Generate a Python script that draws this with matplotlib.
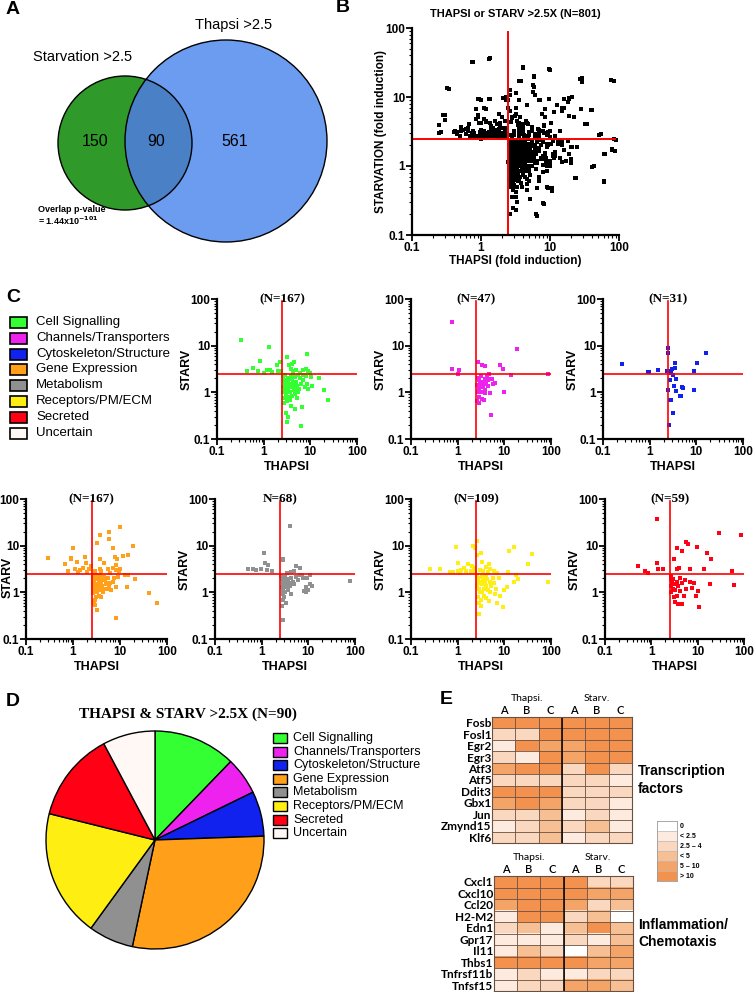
import numpy as np
import matplotlib
matplotlib.use("Agg")
import matplotlib.pyplot as plt
from matplotlib.patches import Circle, Rectangle
from matplotlib.colors import ListedColormap

plt.rcParams['font.family'] = ['Liberation Sans', 'DejaVu Sans']

# Venn counts
starv_only = 150
both = 90
thapsi_only = 561

# Panel C scatter data: (THAPSI, STARV) fold induction per category
cell_signalling = [
    (0.32, 13.5), (1.3, 9.5), (0.85, 4.8), (0.45, 2.9), (0.6, 3.4), (0.75, 2.8), (1.0, 2.6), (1.2, 3.0),
    (1.35, 3.0), (1.5, 2.7), (1.9, 3.8), (2.0, 2.9), (2.2, 4.5), (2.4, 2.8), (3.2, 5.6), (3.5, 3.8),
    (3.8, 3.2), (4.0, 4.0), (4.5, 4.5), (4.2, 2.8), (5.0, 3.0), (6.0, 2.6), (7.0, 3.0), (8.0, 3.2),
    (8.5, 6.6), (9.0, 2.8), (10.0, 2.6), (2.6, 2.2), (2.7, 1.8), (2.8, 1.5), (2.6, 1.3), (2.9, 1.1),
    (3.0, 0.9), (2.7, 0.75), (3.1, 0.65), (3.3, 2.0), (3.4, 1.7), (3.5, 1.4), (3.2, 1.2), (3.6, 1.0),
    (3.4, 0.8), (3.0, 0.36), (3.3, 0.3), (3.2, 0.23), (3.8, 2.2), (4.0, 1.9), (4.2, 1.6), (3.9, 1.3),
    (4.4, 1.1), (4.1, 0.85), (3.9, 0.5), (4.6, 0.45), (4.8, 2.1), (5.0, 1.7), (5.3, 1.4), (4.7, 1.2),
    (5.5, 1.0), (5.2, 0.75), (6.0, 2.0), (6.3, 1.5), (5.8, 1.2), (6.5, 0.48), (6.4, 0.19), (7.0, 1.8),
    (7.5, 1.3), (8.0, 2.2), (8.5, 1.5), (9.0, 1.2), (10.5, 2.1), (11.0, 1.4), (15.0, 2.0), (20.0, 1.1),
    (24.0, 0.68), (2.9, 2.4), (3.1, 1.6), (3.7, 1.5), (4.3, 2.3), (2.6, 1.0), (2.8, 1.25), (3.5, 1.9),
    (4.5, 1.4), (5.5, 2.3), (6.8, 2.4), (3.3, 1.05), (3.7, 0.7), (2.7, 0.6), (4.8, 0.9),
]
channels = [
    (0.75, 32), (0.77, 3.2), (1.05, 2.96), (1.0, 2.5), (18.5, 8.6), (2.7, 4.4), (3.4, 3.9), (3.9, 3.6),
    (8.2, 3.9), (9.5, 3.1), (4.8, 2.5), (14, 2.4), (85, 2.5), (9.9, 1.0), (6.3, 1.58), (5.2, 0.33),
    (2.7, 2.0), (2.9, 1.8), (3.0, 1.5), (2.8, 1.2), (2.7, 1.0), (2.6, 0.65), (2.8, 0.6), (3.2, 2.2),
    (3.3, 1.7), (3.5, 1.3), (3.3, 1.0), (3.4, 0.72), (3.7, 0.7), (3.9, 1.9), (4.0, 1.5), (3.8, 1.15),
    (3.9, 0.95), (4.5, 1.8), (4.8, 1.9), (5.0, 0.95), (5.5, 1.95), (5.8, 1.5), (4.4, 1.4), (2.6, 1.45),
    (3.1, 1.35), (3.6, 1.6), (4.2, 2.2), (2.9, 0.8),
]
cytoskeleton = [
    (0.25, 3.98), (0.9, 2.75), (0.95, 2.75), (1.48, 2.96), (2.3, 2.8), (2.43, 8.9), (2.43, 6.9),
    (2.7, 2.8), (3.0, 3.2), (3.5, 4.2), (3.5, 3.4), (3.1, 2.3), (2.7, 1.8), (2.5, 1.15), (3.6, 1.9),
    (3.3, 1.4), (3.6, 1.05), (5.0, 1.3), (4.7, 0.85), (4.4, 0.85), (2.7, 0.7), (3.2, 0.36), (2.65, 0.2),
    (9.0, 2.9), (10.5, 4.2), (16, 6.9), (8.7, 1.15), (2.4, 2.8), (2.8, 2.6), (5.1, 1.25), (2.9, 0.7),
]
gene_expression = [
    (10, 25), (5.8, 19.6), (3.75, 17), (5.8, 14), (1.0, 8.9), (3.2, 11.4), (19, 9.8), (7.1, 8.9),
    (0.3, 5.4), (0.9, 5.4), (1.8, 5.6), (3.7, 5.1), (7.7, 5.6), (8.5, 5.1), (11.5, 6.0), (15, 6.2),
    (0.68, 4.0), (0.9, 5.2), (1.2, 4.5), (1.1, 3.2), (1.4, 3.0), (1.6, 3.3), (1.9, 4.2), (2.2, 3.2),
    (3.7, 3.2), (4.6, 4.2), (5.5, 3.2), (7.0, 3.3), (8.3, 3.8), (8.3, 3.0), (13, 2.35), (15, 2.3),
    (20.5, 1.9), (41, 0.97), (60, 0.6), (8.2, 0.28), (0.8, 2.9), (1.3, 2.7), (2.0, 2.7), (2.4, 3.6),
    (3.0, 2.8), (4.0, 2.9), (6.0, 2.6), (9.5, 2.8), (10, 3.2), (5.2, 1.58), (5.8, 1.35), (7.0, 1.66),
    (8.3, 1.27), (14, 1.3), (9.0, 2.1), (2.6, 2.3), (2.7, 2.0), (2.8, 1.7), (2.9, 1.5), (2.6, 1.3),
    (3.0, 1.1), (2.7, 0.95), (3.1, 0.8), (2.8, 0.65), (3.3, 2.2), (3.4, 1.9), (3.5, 1.6), (3.2, 1.4),
    (3.6, 1.2), (3.3, 1.0), (3.5, 0.85), (3.0, 0.7), (3.9, 2.0), (4.0, 1.7), (4.2, 1.4), (3.8, 1.15),
    (4.4, 1.0), (4.0, 0.8), (2.6, 1.1), (2.9, 1.9), (3.1, 2.4), (3.7, 2.3), (4.5, 2.1), (4.7, 1.8),
    (5.0, 1.5), (5.3, 1.2), (5.6, 2.0), (6.2, 1.6), (6.5, 1.1), (7.5, 2.0), (2.75, 0.55), (3.2, 0.42),
    (3.0, 0.53), (2.6, 1.6), (3.4, 1.3), (4.6, 1.2), (2.8, 2.4), (3.6, 1.75),
]
metabolism = [
    (4.05, 26.5), (1.1, 7.0), (2.86, 5.2), (1.2, 4.3), (1.4, 3.8), (0.64, 3.2), (0.75, 3.0), (0.51, 3.2),
    (0.97, 3.1), (1.3, 3.0), (1.7, 2.9), (2.8, 5.0), (5.4, 3.7), (6.6, 3.4), (4.9, 2.8), (4.2, 2.7),
    (3.5, 2.6), (7.3, 2.35), (9.5, 2.0), (10.9, 1.5), (8.8, 1.3), (80, 1.75), (2.6, 2.2), (2.7, 1.9),
    (2.8, 1.6), (2.7, 1.3), (2.9, 1.1), (2.8, 0.9), (2.9, 0.7), (2.75, 0.5), (2.9, 0.25), (3.1, 2.1),
    (3.3, 1.8), (3.2, 1.5), (3.4, 1.3), (3.1, 1.0), (3.0, 0.8), (3.6, 1.9), (3.8, 1.6), (4.0, 1.4),
    (3.7, 1.15), (4.3, 2.0), (4.6, 1.7), (5.0, 1.5), (5.5, 2.1), (6.0, 1.8), (6.5, 2.4), (4.2, 0.9),
    (3.4, 0.6), (8.0, 1.05), (9.0, 1.0), (10, 1.15), (12, 1.4), (11, 2.3), (7.5, 2.0),
]
receptors = [
    (0.92, 9.4), (2.1, 9.8), (2.6, 12.5), (2.3, 8.9), (2.6, 6.3), (3.2, 6.9), (12.6, 7.7), (16, 9.4),
    (39, 6.5), (0.26, 3.16), (0.42, 3.2), (1.0, 4.2), (0.8, 2.7), (1.0, 2.9), (1.2, 3.0), (1.4, 3.4),
    (1.7, 4.0), (1.9, 2.8), (2.2, 3.3), (2.4, 2.9), (2.0, 3.6), (1.5, 2.8), (0.7, 2.75), (1.1, 2.6),
    (32, 4.0), (12, 2.7), (18, 2.3), (20, 1.9), (16, 1.7), (87, 1.66), (11.6, 1.3), (9.9, 1.1),
    (8, 0.83), (9.2, 0.48), (2.86, 0.35), (3.0, 3.0), (3.5, 2.8), (4.0, 3.5), (4.5, 2.7), (5.0, 3.1),
    (6.0, 2.9), (7.0, 2.6), (3.3, 4.5), (4.8, 4.0), (2.6, 2.3), (2.7, 2.0), (2.9, 1.7), (2.6, 1.4),
    (2.8, 1.2), (3.0, 1.0), (2.7, 0.8), (2.9, 0.6), (3.2, 0.7), (3.3, 2.1), (3.5, 1.8), (3.4, 1.5),
    (3.7, 1.2), (3.3, 1.0), (3.6, 0.85), (3.1, 0.5), (4.0, 2.2), (4.2, 1.9), (4.0, 1.4), (4.4, 1.1),
    (4.1, 0.75), (4.6, 0.65), (4.9, 1.7), (5.3, 1.4), (5.0, 1.0), (5.6, 2.0), (6.0, 1.6), (6.5, 1.2),
    (7.0, 0.6), (6.2, 0.9), (7.5, 2.0), (2.75, 1.55), (3.8, 1.6),
]
secreted = [
    (1.33, 37), (29, 18.6), (86, 17), (5.6, 12), (6.1, 10.6), (3.6, 9.0), (4.7, 7.7), (9.8, 9.3),
    (16, 6.9), (19, 5.3), (3.1, 5.3), (0.51, 3.7), (0.73, 2.9), (0.84, 2.6), (1.35, 4.2), (1.4, 3.1),
    (1.8, 3.2), (3.5, 3.1), (4.0, 3.3), (7.0, 3.2), (14, 3.2), (54, 2.9), (62, 1.47), (18.7, 1.5),
    (10, 1.05), (10.7, 0.48), (3.8, 0.57), (2.6, 2.2), (2.7, 1.9), (2.8, 1.6), (2.6, 1.4), (2.9, 1.2),
    (3.0, 1.9), (3.2, 1.5), (3.3, 1.1), (3.1, 0.8), (3.2, 0.62), (3.6, 1.7), (3.8, 1.35), (3.5, 0.85),
    (4.2, 2.0), (4.5, 1.6), (4.1, 1.05), (4.6, 0.55), (5.2, 1.8), (5.5, 1.2), (5.0, 0.85), (6.8, 1.7),
    (7.5, 1.25), (8.5, 1.55), (9.0, 0.85), (2.7, 1.0),
]
# genes of uncertain function (only shown in panel B)
uncertain = [
    (0.25, 3.95), (0.25, 3.05), (0.28, 5.4), (0.3, 4.6), (0.34, 13), (0.4, 3.1), (0.45, 3.1), (0.76, 32),
    (1.32, 36), (0.9, 9.3), (1.33, 9.3), (1.2, 6.6), (0.86, 6.8), (4.1, 26.9), (9.7, 25.6), (3.6, 17.3),
    (5.9, 20), (5.6, 15), (27.5, 18), (29, 16.5), (77, 17.5), (2.6, 12.6), (2.6, 10.7), (2.3, 10),
    (6.9, 9), (21, 10), (19, 9.2), (15, 6.9), (28, 6.6), (41, 6.5), (34, 4.0), (22, 5.2), (52, 2.77),
    (60, 1.5), (80, 1.7), (90, 2.4), (60, 0.58), (43, 1.0), (23, 0.67), (8.0, 0.29), (6.2, 0.2),
    (3.2, 0.23), (2.65, 0.2), (10.7, 0.44), (9, 0.5), (0.5, 2.7), (0.55, 3.3), (0.6, 2.9), (0.65, 3.6),
    (0.7, 2.6), (0.8, 3.0), (0.9, 2.7), (1.0, 3.3), (1.1, 2.8), (1.2, 2.6), (1.3, 3.1), (1.4, 2.7),
    (1.6, 2.9), (1.7, 2.6), (1.8, 3.4), (2.0, 2.6), (2.1, 3.0), (2.2, 2.7), (2.3, 3.5), (2.4, 2.6),
    (1.5, 3.6), (1.9, 2.55), (0.95, 4.2), (1.1, 4.8), (1.6, 4.5), (2.0, 5.2), (2.55, 2.0), (2.6, 1.7),
    (2.65, 1.2), (2.6, 0.9), (2.7, 0.5), (2.8, 2.3), (2.85, 1.4), (2.9, 1.0), (2.95, 0.45), (3.0, 1.7),
    (3.05, 1.25), (3.1, 0.75), (3.2, 2.1), (3.25, 1.6), (3.3, 0.9), (3.35, 0.5), (3.4, 1.9), (3.5, 1.1),
    (3.6, 0.62), (3.7, 2.0), (3.8, 1.3), (3.9, 0.95), (4.0, 1.6), (4.2, 1.25), (4.3, 0.7), (4.5, 1.9),
    (4.8, 1.3), (5.0, 0.6), (5.5, 1.6), (6.0, 1.1), (6.5, 2.2), (7.0, 0.7), (8.0, 1.4), (9.0, 1.9),
    (10, 1.2), (12, 1.6), (13, 2.1), (15, 1.15), (17, 1.2), (20, 1.25), (25, 1.9),
]

categories = ["Cell Signalling", "Channels/Transporters", "Cytoskeleton/Structure", "Gene Expression",
              "Metabolism", "Receptors/PM/ECM", "Secreted", "Uncertain"]
cat_colors = ["#33FF33", "#EE22EE", "#1122EE", "#FF9F1A", "#909090", "#FFEE11", "#FF0015", "#FFF8F4"]
panel_titles = ["(N=167)", "(N=47)", "(N=31)", "(N=167)", "N=68)", "(N=109)", "(N=59)"]

# Panel D: both >2.5X, counts per category
pie_counts = [11, 5, 6, 26, 6, 17, 12, 7]

# Panel E heatmaps: levels 0..5 (0, <2.5, 2.5-4, <5, 5-10, >10)
cond_cols = ["A", "B", "C", "A", "B", "C"]
tf_genes = ["Fosb", "Fosl1", "Egr2", "Egr3", "Atf3", "Atf5", "Ddit3", "Gbx1", "Jun", "Zmynd15", "Klf6"]
tf_levels = [
    [5, 5, 5, 5, 5, 5],
    [2, 2, 5, 5, 5, 5],
    [1, 5, 4, 4, 5, 5],
    [2, 1, 5, 4, 5, 5],
    [4, 5, 5, 2, 5, 2],
    [2, 2, 2, 2, 2, 1],
    [5, 5, 5, 2, 2, 2],
    [4, 5, 4, 2, 2, 1],
    [2, 2, 3, 1, 2, 1],
    [1, 2, 3, 2, 3, 1],
    [2, 2, 3, 1, 2, 2],
]
inf_genes = ["Cxcl1", "Cxcl10", "Ccl20", "H2-M2", "Edn1", "Gpr17", "Il11", "Thbs1", "Tnfrsf11b", "Tnfsf15"]
inf_levels = [
    [5, 5, 5, 5, 2, 2],
    [5, 5, 5, 5, 4, 4],
    [4, 5, 5, 4, 2, 3],
    [1, 5, 5, 2, 3, 0],
    [2, 3, 1, 3, 5, 3],
    [1, 1, 1, 2, 1, 3],
    [1, 3, 2, 0, 3, 4],
    [5, 5, 5, 5, 4, 4],
    [1, 2, 1, 1, 2, 2],
    [1, 2, 2, 4, 4, 3],
]
level_labels = ["0", "< 2.5", "2.5 \u2013 4", "< 5", "5 \u2013 10", "> 10"]
level_colors = ["#FFFFFF", "#FDEBDF", "#FAD8BF", "#F7BF94", "#F4A466", "#F2924E"]

W, H = 755, 992
fig = plt.figure(figsize=(W / 100, H / 100), dpi=100)


def axes_px(l, t, r, b):
    return fig.add_axes([l / W, 1 - b / H, (r - l) / W, (b - t) / H])


# canvas in pixel coordinates for venn, legends and labels
canvas = axes_px(0, 0, W, H)
canvas.set_xlim(0, W)
canvas.set_ylim(H, 0)
canvas.axis('off')

bold = dict(fontweight='bold')
for lab, x, y in [("A", 6, 10), ("B", 336, 8), ("C", 6, 298), ("D", 6, 702), ("E", 440, 700)]:
    canvas.text(x, y, lab, fontsize=14, va='center', ha='left', **bold)

# ---- A: venn
green = Circle((125, 143), 67, fc="#2F9A2A", ec='none')
canvas.add_patch(green)
canvas.add_patch(Circle((226, 141), 101, fc="#6C9CF0", ec='none'))
lens = Circle((226, 141), 101, fc="#4A80C6", ec='none')
canvas.add_patch(lens)
lens.set_clip_path(green)
canvas.add_patch(Circle((125, 143), 67, fill=False, ec='black', lw=1))
canvas.add_patch(Circle((226, 141), 101, fill=False, ec='black', lw=1))
canvas.text(83, 57, "Starvation >2.5", fontsize=10.5, ha='center', va='center')
canvas.text(234, 25, "Thapsi >2.5", fontsize=10.5, ha='center', va='center')
canvas.text(95, 141, str(starv_only), fontsize=11.5, ha='center', va='center')
canvas.text(156, 141, str(both), fontsize=11.5, ha='center', va='center')
canvas.text(235, 141, str(thapsi_only), fontsize=11.5, ha='center', va='center')
canvas.text(38, 210, "Overlap p-value", fontsize=6.5, ha='left', va='center', **bold)
canvas.text(38, 221, r"= 1.44x10$^{\mathbf{-101}}$", fontsize=6.5, ha='left', va='center', **bold)


def style_log(ax, fs=8.5):
    ax.set_xscale('log')
    ax.set_yscale('log')
    ax.set_xlim(0.1, 100)
    ax.set_ylim(0.1, 100)
    ticks = [0.1, 1, 10, 100]
    names = ["0.1", "1", "10", "100"]
    ax.set_xticks(ticks)
    ax.set_xticklabels(names)
    ax.set_yticks(ticks)
    ax.set_yticklabels(names)
    for s in ['top', 'right']:
        ax.spines[s].set_visible(False)
    for s in ['left', 'bottom']:
        ax.spines[s].set_linewidth(1.6)
    ax.tick_params(which='major', length=4, width=1.3, labelsize=fs, pad=1)
    ax.tick_params(which='minor', length=2, width=0.8)
    for t in ax.get_xticklabels() + ax.get_yticklabels():
        t.set_fontweight('bold')
    ax.patch.set_alpha(0)


# ---- B: all genes
axb = axes_px(412, 28, 619, 235)
style_log(axb, 8.5)
all_pts = np.array(cell_signalling + channels + cytoskeleton + gene_expression + metabolism
                   + receptors + secreted + uncertain)
axb.plot(all_pts[:, 0], all_pts[:, 1], 's', color='black', ms=2.9, mew=0, clip_on=False)
axb.plot([0.1, 88], [2.5, 2.5], color='#FF0000', lw=1.4)
axb.plot([2.5, 2.5], [0.1, 88], color='#FF0000', lw=1.4)
axb.set_title("THAPSI or STARV >2.5X (N=801)", fontsize=8, fontweight='bold', pad=8)
axb.set_xlabel("THAPSI (fold induction)", fontsize=8.5, fontweight='bold', labelpad=1)
axb.set_ylabel("STARVATION (fold induction)", fontsize=8.5, fontweight='bold', labelpad=-1)

# ---- C: per category
boxes = [(217, 299, 357, 439), (411, 299, 551, 439), (603, 299, 743, 439),
         (26, 499, 167, 639), (215, 499, 355, 639), (411, 499, 551, 639), (605, 499, 744, 639)]
cat_data = [cell_signalling, channels, cytoskeleton, gene_expression, metabolism, receptors, secreted]
for k, (box, pts, col, ttl) in enumerate(zip(boxes, cat_data, cat_colors, panel_titles)):
    ax = axes_px(*box)
    style_log(ax, 8.5)
    p = np.array(pts)
    ax.plot(p[:, 0], p[:, 1], 's', color=col, ms=2.6, mew=0, clip_on=False)
    ax.plot([0.1, 100], [2.5, 2.5], color='#FF0000', lw=1.2)
    ax.plot([2.5, 2.5], [0.1, 90], color='#FF0000', lw=1.2)
    ax.text(2.5, 1.0, ttl, transform=ax.get_xaxis_transform(), ha='center', va='center',
            fontsize=9.5, fontweight='bold', family='Liberation Serif')
    ax.set_xlabel("THAPSI", fontsize=9, fontweight='bold', labelpad=2)
    ax.set_ylabel("STARV", fontsize=9, fontweight='bold', labelpad=-2)
    if k == 3:
        # first column sits at the page edge: keep the label inside
        ax.yaxis.set_label_coords(-0.09, 0.44)

# legend C
for i, (name, col) in enumerate(zip(categories, cat_colors)):
    y = 322 + i * 15.8
    canvas.add_patch(Rectangle((10, y - 5), 17, 11, fc=col, ec='black', lw=1.2))
    canvas.text(36, y, name, fontsize=9.5, va='center', ha='left')

# ---- D: pie
r_px = 109
axp = axes_px(155 - r_px - 2, 840 - r_px - 2, 155 + r_px + 2, 840 + r_px + 2)
axp.pie(pie_counts, colors=cat_colors, startangle=90, counterclock=False,
        wedgeprops=dict(edgecolor='black', linewidth=1))
lim = 1 + 2 / r_px
axp.set_xlim(-lim, lim)
axp.set_ylim(-lim, lim)
axp.set_aspect('equal')
canvas.text(188, 714, "THAPSI & STARV >2.5X (N=90)", fontsize=11, fontweight='bold',
            family='Liberation Serif', ha='center', va='center')
for i, (name, col) in enumerate(zip(categories, cat_colors)):
    y = 738 + i * 13.6
    canvas.add_patch(Rectangle((273, y - 5), 14, 10, fc=col, ec='black', lw=1))
    canvas.text(293, y, name, fontsize=9, va='center', ha='left')

# ---- E: heatmaps
cmap = ListedColormap(level_colors)


def heatmap(box, genes, levels, label):
    ax = axes_px(*box)
    arr = np.array(levels)
    ax.imshow(arr, cmap=cmap, vmin=-0.5, vmax=5.5, aspect='auto', interpolation='nearest')
    nrow, ncol = arr.shape
    ax.hlines(np.arange(0.5, nrow - 0.5), -0.5, ncol - 0.5, color='#6A5040', lw=0.6)
    ax.vlines(np.arange(0.5, ncol - 0.5), -0.5, nrow - 0.5, color='#6A5040', lw=0.6)
    ax.vlines([2.5], -0.5, nrow - 0.5, color='black', lw=1.1)
    ax.set_yticks(range(nrow))
    ax.set_yticklabels(genes, family='Lato', fontsize=8.5, fontweight='bold')
    ax.set_xticks(range(ncol))
    ax.set_xticklabels(cond_cols, family='Lato', fontsize=8, fontweight='semibold')
    ax.xaxis.tick_top()
    ax.tick_params(length=0, pad=0.5)
    for s in ax.spines.values():
        s.set_color('#6A5040')
        s.set_linewidth(0.8)
    ax.text(1, -2.15, "Thapsi.", transform=ax.transData, ha='center', va='center',
            family='Lato', fontsize=7.5)
    ax.text(4, -2.15, "Starv.", transform=ax.transData, ha='center', va='center',
            family='Lato', fontsize=7.5)
    ax.text(1.04, 0.5, label, transform=ax.transAxes, ha='left', va='center',
            fontsize=10, fontweight='bold', linespacing=1.3)


heatmap((492, 717, 632, 843), tf_genes, tf_levels, "Transcription\nfactors")
heatmap((494, 876, 633, 991), inf_genes, inf_levels, "Inflammation/\nChemotaxis")

# level key
axk = axes_px(657, 821, 677, 881)
axk.imshow(np.arange(6).reshape(-1, 1), cmap=cmap, vmin=-0.5, vmax=5.5, aspect='auto')
axk.hlines(np.arange(0.5, 5.5), -0.5, 0.5, color='#BBBBBB', lw=0.5)
axk.set_xticks([])
axk.set_yticks([])
for s in axk.spines.values():
    s.set_color('#999999')
    s.set_linewidth(0.6)
for i, lab in enumerate(level_labels):
    axk.text(1.15, i, lab, transform=axk.get_yaxis_transform(), ha='left', va='center',
             fontsize=5, fontweight='bold')

fig.savefig("out.png", dpi=100)
